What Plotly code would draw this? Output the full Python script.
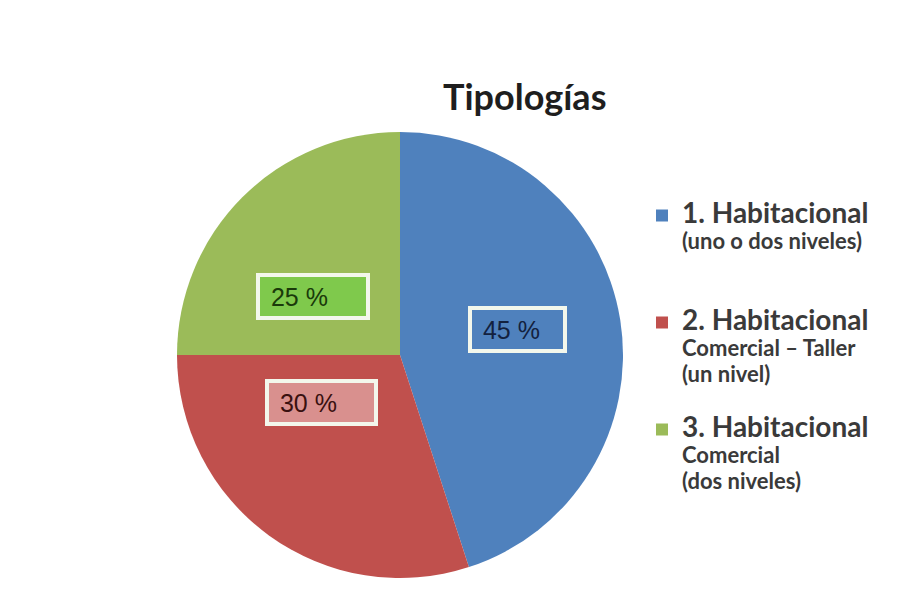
import plotly.graph_objects as go

categories = ["1. Habitacional", "2. Habitacional", "3. Habitacional"]
subtitles = [["(uno o dos niveles)", " ", " "], ["Comercial – Taller", "(un nivel)", " "], ["Comercial", "(dos niveles)", " "]]
values = [45, 30, 25]
colors = ["#4f81bd", "#c0504d", "#9bbb59"]
box_fill = ["#4f81bd", "#d9908e", "#7fc94c"]
box_text = ["#13213f", "#3a1010", "#1a3a0a"]
title = "Tipologías"

# page body has an 8px margin; figure sized to fill the 899x597 window
OFF = 8
W, H = 899 - 2 * OFF, 597 - 2 * OFF


def px(x):
    return (x - OFF) / W


def py(y):
    return 1 - (y - OFF) / H


cx, cy, r = 400, 355, 223

legend_labels = [
    f"<span style='font-size:28px'><b>{c}</b></span><br>"
    + "<br>".join(f"<span style='font-size:22px'><b>{s}</b></span>" for s in subs)
    for c, subs in zip(categories, subtitles)
]

fig = go.Figure(go.Pie(
    labels=legend_labels,
    values=values,
    sort=False,
    direction="clockwise",
    rotation=0,
    marker=dict(colors=colors, line=dict(width=0)),
    textinfo="none",
    hoverinfo="label+percent",
    domain=dict(x=[px(cx - r), px(cx + r)], y=[py(cy + r), py(cy - r)]),
))

# label boxes: (center x, center y, inner width) in window pixels
label_box = [(517.5, 329.5, 83), (321.5, 402, 97), (313, 296.5, 98)]
for v, (bx, by, bw), fc, tc in zip(values, label_box, box_fill, box_text):
    fig.add_annotation(
        x=px(bx), y=py(by), xref="paper", yref="paper",
        xanchor="center", yanchor="middle",
        text=f"&nbsp;{v} %", showarrow=False,
        font=dict(family="Liberation Sans, Arial", size=25, color=tc),
        bgcolor=fc, bordercolor="#f3f7ec", borderwidth=4,
        borderpad=4, width=bw, height=31, align="left",
    )

fig.add_annotation(
    x=px(524), y=py(96), xref="paper", yref="paper",
    xanchor="center", yanchor="middle",
    text=f"<b>{title}</b>", showarrow=False,
    font=dict(family="Lato, Open Sans, sans-serif", size=36, color="#1e1e1e"),
)

fig.update_layout(
    width=W, height=H,
    margin=dict(l=0, r=0, t=0, b=0),
    paper_bgcolor="white",
    plot_bgcolor="white",
    showlegend=True,
    legend=dict(
        x=px(642), y=py(196), xanchor="left", yanchor="top",
        font=dict(family="Lato, Open Sans, sans-serif", size=20, color="#3a3a3a"),
        valign="top",
        traceorder="normal",
        tracegroupgap=0,
    ),
)

fig.write_html("out.html")
